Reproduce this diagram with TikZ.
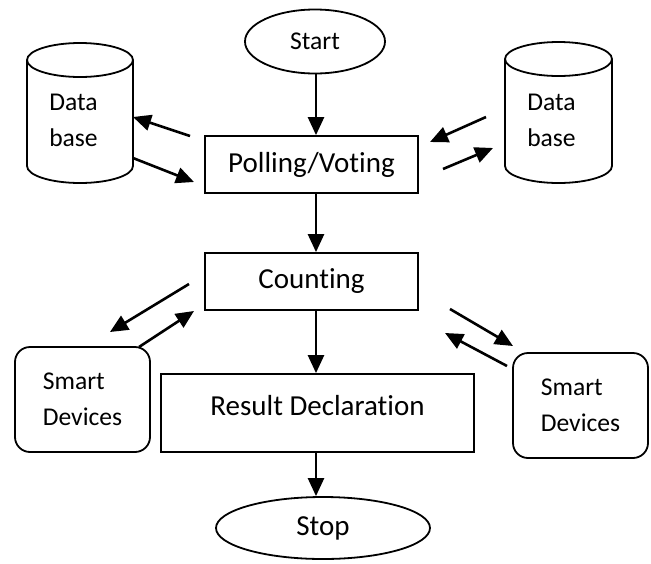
\documentclass[tikz,border=0pt]{standalone}
\usepackage{fontspec}
\setmainfont{Carlito}[RawFeature={-liga;-clig;-calt;-dlig;-rlig}]
\usetikzlibrary{arrows.meta,shapes.geometric}
\begin{document}
\begin{tikzpicture}[x=1pt,y=1pt,
  line width=1.8pt,
  box/.style={draw, line width=1.8pt, inner sep=0pt},
  oval/.style={draw, ellipse, line width=1.8pt, inner sep=0pt},
  dev/.style={draw, line width=1.8pt, rounded corners=15pt, inner sep=0pt, align=left,
              minimum width=135pt, minimum height=105pt, font=\fontsize{25.6}{36}\selectfont},
  big/.style={font=\fontsize{29}{35}\selectfont},
  small/.style={font=\fontsize{25.6}{36}\selectfont},
  dbtext/.style={align=center, inner sep=0pt, font=\fontsize{25.6}{36}\selectfont},
  arr/.style={line width=2.6pt, -{Triangle[length=18pt,width=16pt]}},
]
\useasboundingbox (0,0) rectangle (651,-563);

% flow nodes
\node[oval, small, minimum width=140pt, minimum height=64pt] (start) at (315,-41.5) {Start};
\node[box, big, minimum width=213pt, minimum height=57pt] (poll) at (311.5,-164.5) {Polling/Voting};
\node[box, big, minimum width=213pt, minimum height=57pt] (count) at (311.5,-281.5) {Counting};
\node[box, minimum width=313pt, minimum height=78pt] (res) at (317.5,-413) {};
\node[big, inner sep=0pt] (restext) at (317.5,-406) {Result Declaration};
\node[oval, big, minimum width=214pt, minimum height=62pt] (stop) at (323,-528) {Stop};

% databases (cylinders)
\draw (80,-60) ellipse (53pt and 17pt);
\draw (27,-60) -- (27,-166) arc[start angle=180, end angle=360, x radius=53pt, y radius=17pt] -- (133,-60);
\node[dbtext] (dbl) at (73.5,-120) {Data\\base};

\draw (558.5,-59) ellipse (53.5pt and 17pt);
\draw (505,-59) -- (505,-166) arc[start angle=180, end angle=360, x radius=53.5pt, y radius=17pt] -- (612,-59);
\node[dbtext] (dbr) at (551.5,-120) {Data\\base};

% smart devices
\node[dev] (sdl) at (82.5,-399.5) {Smart\\Devices};
\node[dev] (sdr) at (580.5,-405.5) {Smart\\Devices};

% vertical flow arrows
\draw[arr] (start.south -| 316,0) -- (poll.north -| 316,0);
\draw[arr] (poll.south -| 316,0) -- (count.north -| 316,0);
\draw[arr] (count.south -| 316,0) -- (res.north -| 316,0);
\draw[arr] (res.south -| 316,0) -- (stop.north -| 316,0);

% side arrow end points
\coordinate (a1s) at (190,-136); \coordinate (a1e) at (133,-117);
\coordinate (a2s) at (133,-158); \coordinate (a2e) at (194,-182);
\coordinate (a3s) at (486,-117); \coordinate (a3e) at (430,-142);
\coordinate (a4s) at (443,-169); \coordinate (a4e) at (493,-148);
\coordinate (a5s) at (189,-284); \coordinate (a5e) at (110,-332);
\coordinate (a6s) at (139,-347); \coordinate (a6e) at (194,-311);
\coordinate (a7s) at (450,-309); \coordinate (a7e) at (513,-346);
\coordinate (a8s) at (507,-366); \coordinate (a8e) at (445,-333);

\draw[arr] (a1s) -- (a1e);
\draw[arr] (a2s) -- (a2e);
\draw[arr] (a3s) -- (a3e);
\draw[arr] (a4s) -- (a4e);
\draw[arr] (a5s) -- (a5e);
\draw[arr] (a6s) -- (a6e);
\draw[arr] (a7s) -- (a7e);
\draw[arr] (a8s) -- (a8e);
\end{tikzpicture}
\end{document}
